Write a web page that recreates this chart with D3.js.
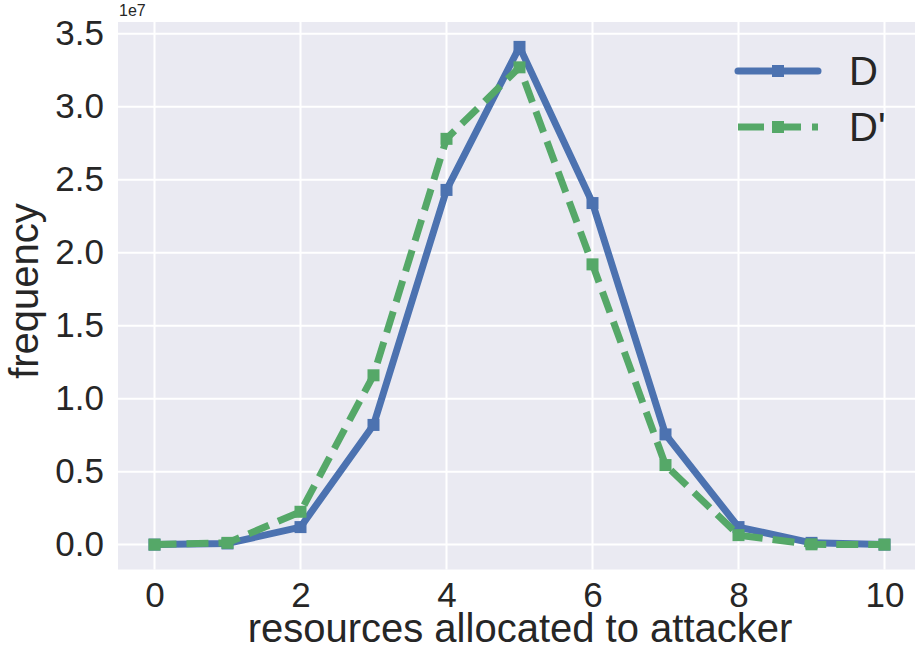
<!DOCTYPE html>
<html>
<head>
<meta charset="utf-8">
<script src="https://cdn.jsdelivr.net/npm/d3@7"></script>
<style>
  html, body { margin: 0; padding: 0; background: #ffffff; }
  svg { display: block; }
  text { font-family: "Liberation Sans", Arial, sans-serif; fill: #262626; }
</style>
</head>
<body>
<svg id="chart" width="915" height="657"></svg>
<script>
// resources allocated to attacker (0..10)
const resources = [0, 1, 2, 3, 4, 5, 6, 7, 8, 9, 10];
// frequency, in units of 1e7
const freqD      = [0.0, 0.008, 0.12, 0.82, 2.43, 3.41, 2.34, 0.755, 0.12, 0.012, 0.0];
const freqDprime = [0.0, 0.012, 0.225, 1.16, 2.78, 3.27, 1.92, 0.545, 0.065, 0.002, 0.0];
const seriesNames = ["D", "D'"];
const xTicks = [0, 2, 4, 6, 8, 10];
const yTicks = [0.0, 0.5, 1.0, 1.5, 2.0, 2.5, 3.0, 3.5];

const colors = { D: "#4C72B0", Dp: "#55A868" };

const svg = d3.select("#chart");
const plot = { left: 118, right: 921, top: 22, bottom: 569.5 };

const x = d3.scaleLinear().domain([-0.5, 10.5]).range([plot.left, plot.right]);
const y = d3.scaleLinear().domain([-0.1705, 3.5805]).range([plot.bottom, plot.top]);

// axes background
svg.append("rect")
  .attr("x", plot.left).attr("y", plot.top)
  .attr("width", plot.right - plot.left).attr("height", plot.bottom - plot.top)
  .attr("fill", "#EAEAF2");

// grid
const grid = svg.append("g").attr("stroke", "#ffffff").attr("stroke-width", 2);
grid.selectAll("line.v").data(xTicks).join("line")
  .attr("x1", d => x(d)).attr("x2", d => x(d))
  .attr("y1", plot.top).attr("y2", plot.bottom);
grid.selectAll("line.h").data(yTicks).join("line")
  .attr("x1", plot.left).attr("x2", plot.right)
  .attr("y1", d => y(d)).attr("y2", d => y(d));

// tick labels
const xAxis = d3.axisBottom(x).tickValues(xTicks).tickSize(0).tickPadding(13).tickFormat(d3.format("d"));
const yAxis = d3.axisLeft(y).tickValues(yTicks).tickSize(0).tickPadding(14).tickFormat(d3.format(".1f"));

const gx = svg.append("g").attr("transform", `translate(0,${plot.bottom})`).call(xAxis);
const gy = svg.append("g").attr("transform", `translate(${plot.left},0)`).call(yAxis);
[gx, gy].forEach(g => {
  g.select(".domain").remove();
  g.selectAll("text")
    .style("font-family", "'Liberation Sans', Arial, sans-serif")
    .style("font-size", "35px")
    .attr("fill", "#262626");
});

// offset label
svg.append("text").attr("x", 119).attr("y", 16)
  .style("font-size", "16px").text("1e7");

// axis labels
svg.append("text")
  .attr("x", 520).attr("y", 642)
  .attr("text-anchor", "middle").style("font-size", "40px")
  .text("resources allocated to attacker");
svg.append("text")
  .attr("transform", `translate(38,${291}) rotate(-90)`)
  .attr("text-anchor", "middle").style("font-size", "40px")
  .text("frequency");

// clip to axes area
svg.append("clipPath").attr("id", "clip")
  .append("rect").attr("x", plot.left).attr("y", plot.top)
  .attr("width", plot.right - plot.left).attr("height", plot.bottom - plot.top);

const line = d3.line().x(d => x(d[0])).y(d => y(d[1]));
const dataD = resources.map((r, i) => [r, freqD[i]]);
const dataDp = resources.map((r, i) => [r, freqDprime[i]]);

const series = [
  { name: seriesNames[0], data: dataD, color: colors.D, dash: null },
  { name: seriesNames[1], data: dataDp, color: colors.Dp, dash: "22,10" }
];

const ms = 12;
const g = svg.append("g").attr("clip-path", "url(#clip)");
series.forEach(s => {
  g.append("path").datum(s.data)
    .attr("d", line)
    .attr("fill", "none")
    .attr("stroke", s.color)
    .attr("stroke-width", 7)
    .attr("stroke-linejoin", "round")
    .attr("stroke-linecap", s.dash ? "butt" : "round")
    .attr("stroke-dasharray", s.dash);
  g.selectAll(null).data(s.data).join("rect")
    .attr("x", d => x(d[0]) - ms / 2).attr("y", d => y(d[1]) - ms / 2)
    .attr("width", ms).attr("height", ms)
    .attr("fill", s.color);
});

// legend
const legend = svg.append("g");
const legY = [71, 127];
series.forEach((s, i) => {
  const lg = legend.append("g");
  lg.append("line")
    .attr("x1", 738).attr("x2", 818)
    .attr("y1", legY[i]).attr("y2", legY[i])
    .attr("stroke", s.color).attr("stroke-width", 7)
    .attr("stroke-linecap", s.dash ? "butt" : "round")
    .attr("stroke-dasharray", s.dash ? "26,11" : null);
  lg.append("rect")
    .attr("x", 778 - ms / 2).attr("y", legY[i] - ms / 2)
    .attr("width", ms).attr("height", ms).attr("fill", s.color);
  lg.append("text")
    .attr("x", 849).attr("y", legY[i] + 14)
    .style("font-size", "40px").text(s.name);
});
</script>
</body>
</html>
